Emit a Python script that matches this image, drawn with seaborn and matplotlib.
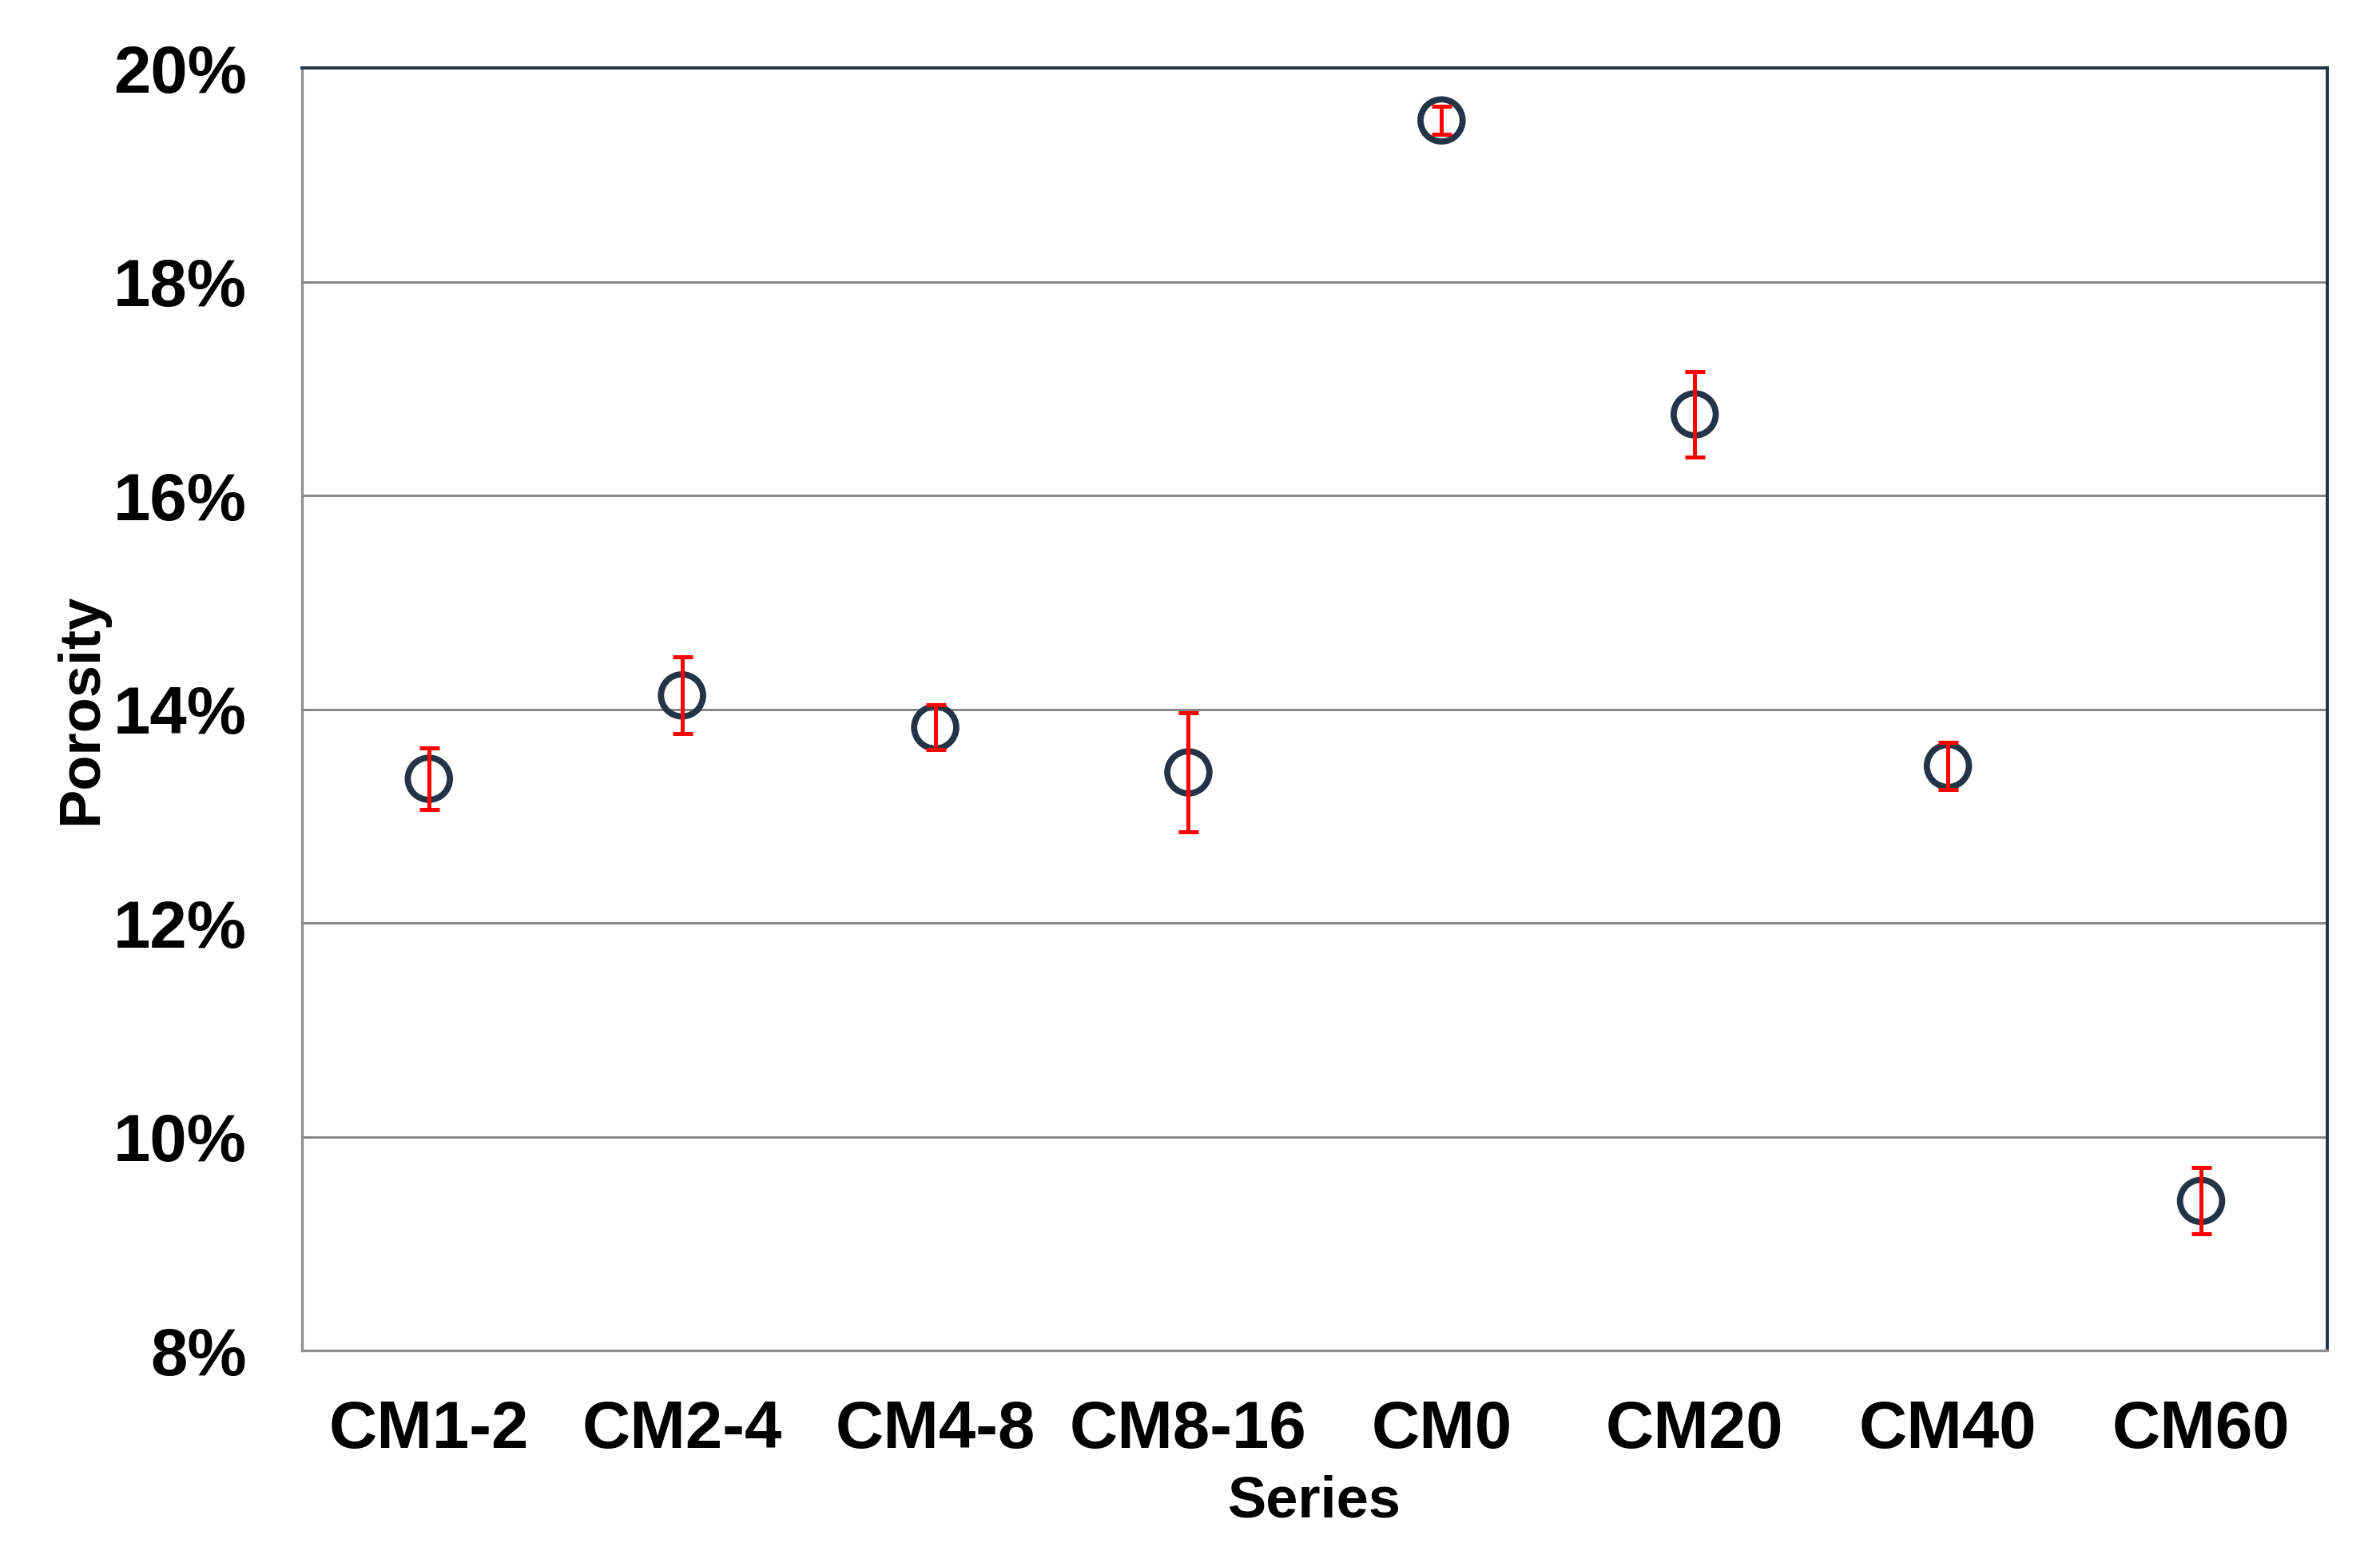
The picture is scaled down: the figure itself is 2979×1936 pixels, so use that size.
import numpy as np
import matplotlib.pyplot as plt
import seaborn as sns
import pandas as pd
from matplotlib.ticker import PercentFormatter

series = ["CM1-2", "CM2-4", "CM4-8", "CM8-16", "CM0", "CM20", "CM40", "CM60"]
porosity = [13.35, 14.13, 13.83, 13.41, 19.51, 16.76, 13.47, 9.40]
err = [0.29, 0.36, 0.21, 0.56, 0.13, 0.40, 0.22, 0.31]

sns.set_style("white")
plt.rcParams["font.family"] = ["Liberation Sans", "DejaVu Sans"]
plt.rcParams["font.weight"] = "bold"
plt.rcParams["text.color"] = "black"
plt.rcParams["axes.labelcolor"] = "black"
plt.rcParams["xtick.color"] = "black"
plt.rcParams["ytick.color"] = "black"

df = pd.DataFrame(dict(series=series, porosity=porosity, err=err))

fig, ax = plt.subplots(figsize=(14.895, 9.68), dpi=200)
fig.subplots_adjust(left=0.127, right=0.978, top=0.956, bottom=0.127)

sns.scatterplot(data=df, x="series", y="porosity", ax=ax, marker="o",
                s=360, facecolors="none", edgecolor="#243447", linewidth=2.8,
                zorder=3)
ax.errorbar(np.arange(len(series)), df["porosity"], yerr=df["err"], fmt="none",
            ecolor="#ff0000", elinewidth=1.8, capsize=4.5, capthick=1.8, zorder=4)

ax.set_xlim(-0.5, len(series) - 0.5)
ax.set_ylim(8, 20)
ax.set_yticks(np.arange(8, 21, 2))
ax.yaxis.set_major_formatter(PercentFormatter(100, decimals=0))
ax.grid(axis="y", color="#808080", linewidth=1.0)
ax.set_axisbelow(True)

for side in ["left", "bottom"]:
    ax.spines[side].set_color("#909090")
    ax.spines[side].set_linewidth(1.2)
for side in ["top", "right"]:
    ax.spines[side].set_color("#243447")
    ax.spines[side].set_linewidth(1.4)

ax.tick_params(axis="both", length=0, labelsize=30, colors="black")
ax.tick_params(axis="x", pad=22)
ax.tick_params(axis="y", pad=25)
for lab in ax.get_xticklabels() + ax.get_yticklabels():
    lab.set_fontweight("bold")

ax.set_xlabel("Series", fontsize=26, fontweight="bold", labelpad=6, color="black")
ax.set_ylabel("Porosity", fontsize=26, fontweight="bold", labelpad=2, color="black")

fig.savefig("out.png", dpi=200, facecolor="white")
